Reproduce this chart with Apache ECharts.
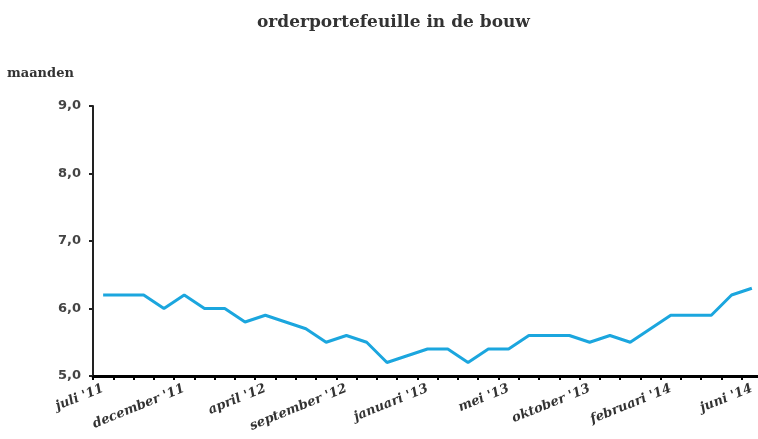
<!DOCTYPE html>
<html>
<head>
<meta charset="utf-8">
<script src="https://cdn.jsdelivr.net/npm/echarts@6/dist/echarts.min.js"></script>
<style>
  html, body { margin: 0; padding: 0; background: #fff; }
  #chart { width: 758px; height: 439px; }
</style>
</head>
<body>
<div id="chart"></div>
<script>
  // labels shown on every 4th point
  var tickLabels = ["juli '11", "december '11", "april '12", "september '12", "januari '13", "mei '13", "oktober '13", "februari '14", "juni '14"];
  var values = [6.2, 6.2, 6.2, 6.0, 6.2, 6.0, 6.0, 5.8, 5.9, 5.8, 5.7, 5.5, 5.6, 5.5, 5.2, 5.3,
                5.4, 5.4, 5.2, 5.4, 5.4, 5.6, 5.6, 5.6, 5.5, 5.6, 5.5, 5.7, 5.9, 5.9, 5.9, 6.2, 6.3];
  var yTicks = [5, 6, 7, 8, 9];

  var categories = values.map(function (v, i) {
    return i % 4 === 0 ? tickLabels[i / 4] : '';
  });

  var chartDom = document.getElementById('chart');
  var myChart = echarts.init(chartDom);

  var option = {
    backgroundColor: '#fff',
    animation: false,
    title: {
      text: 'orderportefeuille in de bouw',
      left: 252,
      top: 9,
      textStyle: {
        fontFamily: 'DejaVu Serif',
        fontSize: 17,
        fontWeight: 'bold',
        color: '#333'
      }
    },
    grid: {
      left: 93,
      right: -4,
      top: 106,
      bottom: 63,
      outerBoundsMode: 'none'
    },
    xAxis: {
      type: 'category',
      boundaryGap: true,
      data: categories,
      axisLine: {
        show: true,
        lineStyle: { color: '#000', width: 3 }
      },
      axisTick: {
        show: true,
        interval: 0,
        length: 4,
        lineStyle: { color: '#000', width: 2 }
      },
      axisLabel: {
        interval: 0,
        rotate: 22,
        margin: 12,
        fontFamily: 'DejaVu Serif',
        fontStyle: 'italic',
        fontWeight: 'bold',
        fontSize: 13,
        color: '#333'
      }
    },
    yAxis: {
      type: 'value',
      min: yTicks[0],
      max: yTicks[yTicks.length - 1],
      interval: 1,
      name: 'maanden',
      nameLocation: 'end',
      nameGap: 26,
      nameTextStyle: {
        align: 'left',
        padding: [0, 0, 0, -86],
        fontFamily: 'DejaVu Serif',
        fontSize: 13,
        fontWeight: 'bold',
        color: '#333'
      },
      axisLine: {
        show: true,
        lineStyle: { color: '#222', width: 2 }
      },
      axisTick: {
        show: true,
        length: 4,
        lineStyle: { color: '#222', width: 2 }
      },
      splitLine: { show: false },
      axisLabel: {
        margin: 12,
        fontFamily: 'DejaVu Sans',
        fontSize: 13,
        fontWeight: 'bold',
        color: '#444',
        formatter: function (v) {
          return v.toFixed(1).replace('.', ',');
        }
      }
    },
    series: [
      {
        type: 'line',
        data: values,
        symbol: 'none',
        lineStyle: { color: '#1ba6de', width: 3 }
      }
    ]
  };

  option && myChart.setOption(option);
</script>
</body>
</html>
